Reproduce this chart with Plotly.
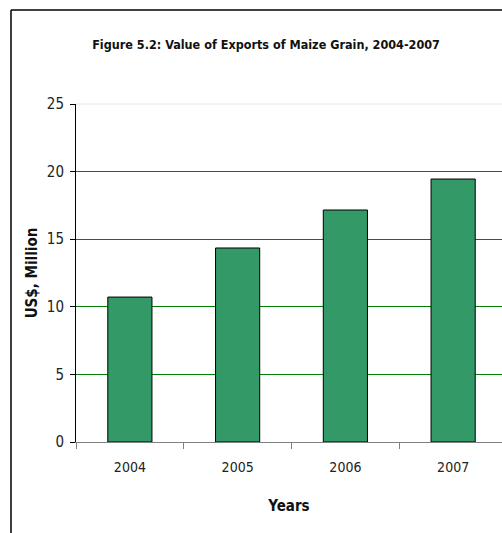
import plotly.graph_objects as go

years = ["2004", "2005", "2006", "2007"]
values = [10.72, 14.35, 17.16, 19.45]
y_ticks = [0, 5, 10, 15, 20, 25]

W, H = 502, 533
L, R, T, B = 76, 0, 104, 91
pw = W - L - R
ph = H - T - B
FONT = "DejaVu Sans Condensed, Liberation Sans Narrow, Arial Narrow, sans-serif"

fig = go.Figure(go.Bar(
    x=years, y=values,
    width=0.41,
    marker=dict(color="#339966", line=dict(color="#000000", width=1)),
))

fig.update_layout(
    width=W, height=H,
    margin=dict(l=L, r=R, t=T, b=B, pad=0),
    paper_bgcolor="white", plot_bgcolor="white",
    showlegend=False,
    font=dict(family=FONT, size=14, color="#222222"),
    title=dict(text="<b>Figure 5.2: Value of Exports of Maize Grain, 2004-2007</b>",
               x=266 / W, xanchor="center", y=1 - 45 / H, yanchor="middle",
               font=dict(family=FONT, size=12.5, color="#111111")),
    xaxis=dict(
        range=[-0.5, 3.5 - 5 / 107.7],
        showline=True, linecolor="#808080", linewidth=1,
        ticks="outside", tickson="boundaries", ticklen=6, tickcolor="#808080",
        ticklabelstandoff=12,
        showgrid=False,
        title=dict(text="<b>Years</b>", standoff=26, font=dict(family=FONT, size=15, color="#111111")),
        tickfont=dict(family=FONT, size=14, color="#222222"),
        fixedrange=True,
    ),
    yaxis=dict(
        range=[0, 25],
        tickvals=y_ticks,
        showline=True, linecolor="#000000", linewidth=1,
        ticks="outside", ticklen=5, tickcolor="#000000",
        ticklabelstandoff=3,
        showgrid=True, gridcolor="#008000", gridwidth=1,
        zeroline=False,
        title=dict(text="<b>US$, Million</b>", standoff=5, font=dict(family=FONT, size=15, color="#111111")),
        tickfont=dict(family=FONT, size=15, color="#222222"),
        fixedrange=True,
    ),
    shapes=[
        dict(type="line", xref="paper", yref="paper", x0=0, x1=1, y0=1, y1=1,
             line=dict(color="#e6e6e6", width=1), layer="above"),
        dict(type="line", xref="paper", yref="paper",
             x0=(11 - L) / pw, x1=(11 - L) / pw, y0=(ph + T - 10) / ph, y1=-B / ph,
             line=dict(color="#000000", width=1.5)),
        dict(type="line", xref="paper", yref="paper",
             x0=(11 - L) / pw, x1=1, y0=(ph + T - 10) / ph, y1=(ph + T - 10) / ph,
             line=dict(color="#000000", width=1.5)),
    ],
)

fig.write_html("out.html")
